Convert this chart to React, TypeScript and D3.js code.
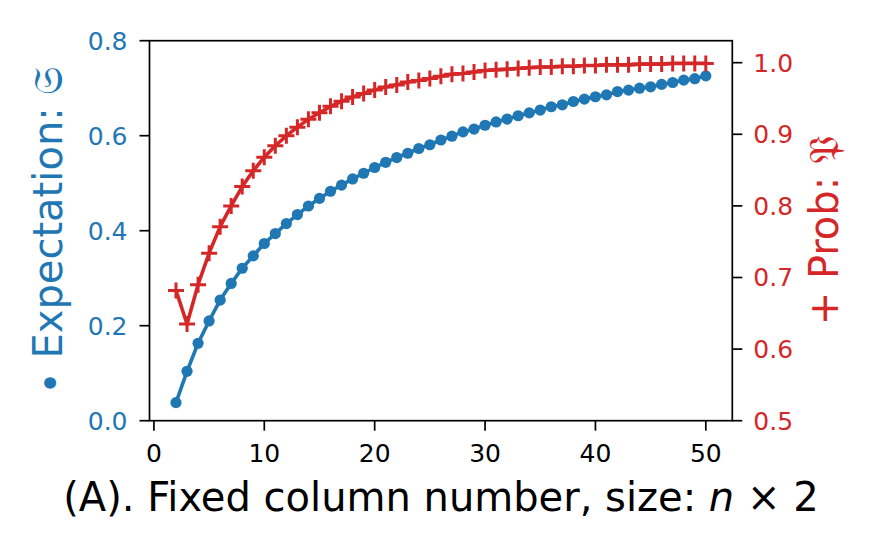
import React from "react";
import * as d3 from "d3";

const nValues: number[] = Array.from({ length: 49 }, (_, i) => i + 2);
const expectation: number[] = [
  0.038, 0.104, 0.163, 0.21, 0.254, 0.289, 0.321, 0.347, 0.373, 0.394,
  0.415, 0.434, 0.452, 0.468, 0.483, 0.496, 0.509, 0.521, 0.533, 0.544,
  0.554, 0.563, 0.573, 0.581, 0.591, 0.599, 0.608, 0.614, 0.622, 0.629,
  0.635, 0.642, 0.648, 0.654, 0.661, 0.665, 0.672, 0.677, 0.682, 0.686,
  0.693, 0.696, 0.7, 0.703, 0.708, 0.712, 0.717, 0.72, 0.726,
];
const probability: number[] = [
  0.682, 0.635, 0.69, 0.734, 0.771, 0.8, 0.827, 0.849, 0.868, 0.884,
  0.898, 0.91, 0.921, 0.93, 0.939, 0.946, 0.952, 0.957, 0.962, 0.966,
  0.969, 0.973, 0.975, 0.978, 0.981, 0.984, 0.985, 0.987, 0.989, 0.99,
  0.991, 0.992, 0.993, 0.994, 0.994, 0.995, 0.995, 0.996, 0.996, 0.997,
  0.997, 0.997, 0.998, 0.998, 0.998, 0.999, 0.999, 0.999, 0.999,
];
const xTicks: number[] = [0, 10, 20, 30, 40, 50];
const leftTicks: number[] = [0.0, 0.2, 0.4, 0.6, 0.8];
const rightTicks: number[] = [0.5, 0.6, 0.7, 0.8, 0.9, 1.0];

const BLUE = "#1f77b4";
const RED = "#d62728";
const FONT = "DejaVu Sans";

export default function App() {
  const L = 149.5, R = 732.3, T = 40.7, B = 420.7;
  const x = d3.scaleLinear().domain([-0.4, 52.4]).range([L, R]);
  const yL = d3.scaleLinear().domain([0, 0.8]).range([B, T]);
  const yR = d3.scaleLinear().domain([0.5, 1.0307]).range([B, T]);

  const lineL = d3.line<number>().x((_, i) => x(nValues[i])).y((d) => yL(d));
  const lineR = d3.line<number>().x((_, i) => x(nValues[i])).y((d) => yR(d));

  const tickLen = 10;
  const tickFs = 25;
  const labelFs = 40;
  const cy = (T + B) / 2;
  const cx = (L + R) / 2;

  return (
    <svg
      width={880}
      height={550}
      style={{ position: "absolute", left: 0, top: 0, background: "#fff" }}
      fontFamily={FONT}
    >
      <rect x={0} y={0} width={880} height={550} fill="#fff" />
      {/* blue series */}
      <path d={lineL(expectation) || ""} fill="none" stroke={BLUE} strokeWidth={3.6} strokeLinejoin="round" />
      {expectation.map((v, i) => (
        <circle key={"b" + i} cx={x(nValues[i])} cy={yL(v)} r={5.6} fill={BLUE} />
      ))}
      {/* red series */}
      <path d={lineR(probability) || ""} fill="none" stroke={RED} strokeWidth={3.6} strokeLinejoin="round" />
      {probability.map((v, i) => {
        const px = x(nValues[i]);
        const py = yR(v);
        const h = 8;
        return (
          <path
            key={"r" + i}
            d={`M${px - h},${py}H${px + h}M${px},${py - h}V${py + h}`}
            stroke={RED}
            strokeWidth={3}
            fill="none"
          />
        );
      })}
      {/* frame */}
      <rect x={L} y={T} width={R - L} height={B - T} fill="none" stroke="#000" strokeWidth={1.7} />
      {/* x ticks */}
      {xTicks.map((t) => (
        <g key={"x" + t}>
          <line x1={x(t)} x2={x(t)} y1={B} y2={B + tickLen} stroke="#000" strokeWidth={1.7} />
          <text x={x(t)} y={B + 41} textAnchor="middle" fontSize={tickFs} fill="#000">
            {t}
          </text>
        </g>
      ))}
      {/* left ticks */}
      {leftTicks.map((t) => (
        <g key={"l" + t}>
          <line x1={L - tickLen} x2={L} y1={yL(t)} y2={yL(t)} stroke="#000" strokeWidth={1.7} />
          <text x={L - 22} y={yL(t) + 9} textAnchor="end" fontSize={tickFs} fill={BLUE}>
            {t.toFixed(1)}
          </text>
        </g>
      ))}
      {/* right ticks */}
      {rightTicks.map((t) => (
        <g key={"rt" + t}>
          <line x1={R} x2={R + tickLen} y1={yR(t)} y2={yR(t)} stroke="#000" strokeWidth={1.7} />
          <text x={R + 21} y={yR(t) + 9} textAnchor="start" fontSize={tickFs} fill={RED}>
            {t.toFixed(1)}
          </text>
        </g>
      ))}
      {/* axis labels */}
      <text
        transform={`translate(62,${cy}) rotate(-90)`}
        textAnchor="middle"
        fontSize={labelFs}
        fill={BLUE}
      >
        <tspan dy={3}>•</tspan>
        <tspan dy={-3}> Expectation: 𝔖</tspan>
      </text>
      <text
        transform={`translate(838,${cy}) rotate(-90)`}
        textAnchor="middle"
        fontSize={labelFs}
        fill={RED}
      >
        + Prob: 𝔓
      </text>
      <text x={cx} y={511} textAnchor="middle" fontSize={labelFs} fill="#000">
        (A). Fixed column number, size: <tspan fontStyle="italic">n</tspan> × 2
      </text>
    </svg>
  );
}
